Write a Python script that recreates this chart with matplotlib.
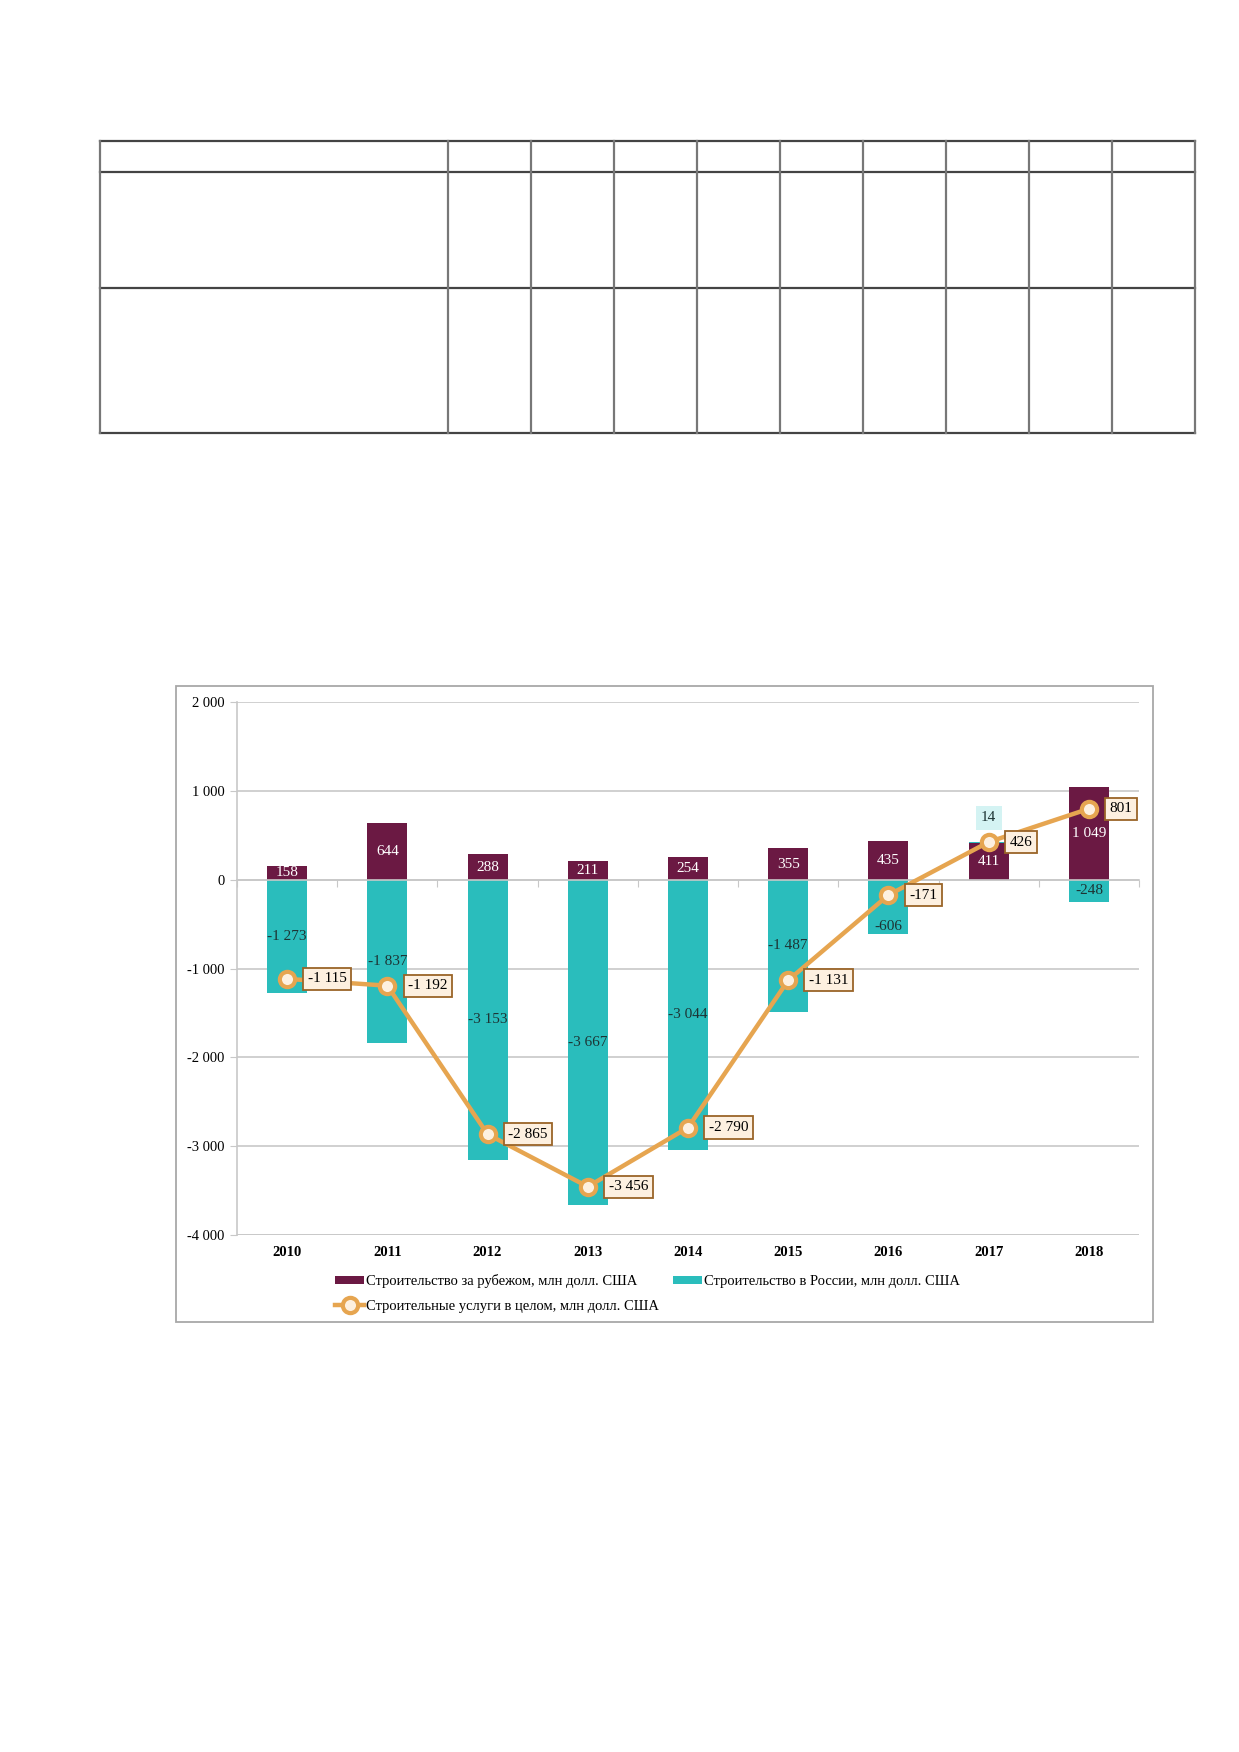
import matplotlib
matplotlib.use("Agg")
import matplotlib.pyplot as plt
import numpy as np
from matplotlib.lines import Line2D
from matplotlib.patches import Rectangle

plt.rcParams['font.family'] = ['Liberation Serif', 'DejaVu Serif']

years = ['2010', '2011', '2012', '2013', '2014', '2015', '2016', '2017', '2018']
abroad = [158, 644, 288, 211, 254, 355, 435, 411, 1049]
russia = [-1273, -1837, -3153, -3667, -3044, -1487, -606, 14, -248]
total = [-1115, -1192, -2865, -3456, -2790, -1131, -171, 426, 801]

lab_abroad = 'Строительство за рубежом, млн долл. США'
lab_russia = 'Строительство в России, млн долл. США'
lab_total = 'Строительные услуги в целом, млн долл. США'

PURPLE = '#6b1943'
CYAN = '#2abdbc'
ORANGE = '#e6a550'
CREAM = '#fdf0e0'
BROWN = '#9a6428'
GRID = '#c8c8c8'

W, H = 1239, 1752
fig = plt.figure(figsize=(W / 100, H / 100), dpi=100)


def fmt(v):
    return '{:,}'.format(v).replace(',', ' ')


# empty table frame on top of the page (pixel coords)
bg = fig.add_axes([0, 0, 1, 1])
bg.set_xlim(0, W)
bg.set_ylim(H, 0)
bg.axis('off')
t_left, t_right, t_first = 100, 1195, 447.5
rows = [141, 172, 288, 433]
cols = [t_left, t_first] + list(np.linspace(t_first, t_right, 10)[1:])
for y in rows:
    bg.add_line(Line2D([t_left, t_right], [y, y], color='#444444', lw=1.6))
for x in cols:
    bg.add_line(Line2D([x, x], [rows[0], rows[-1]], color='#777777', lw=1.6))

# chart border
bg.add_patch(Rectangle((176, 686), 977, 636, fill=False, ec='#a8a8a8', lw=1.3))

ax = fig.add_axes([237 / W, 1 - 1235 / H, 902 / W, (1235 - 702.3) / H])
x = np.arange(len(years))
bw = 0.4

b1 = ax.bar(x, abroad, bw, color=PURPLE, label=lab_abroad, zorder=2)
russia_bottom = [a if r > 0 else 0 for a, r in zip(abroad, russia)]
b2 = ax.bar(x, russia, bw, bottom=russia_bottom, color=CYAN, label=lab_russia, zorder=2)
ln, = ax.plot(x, total, color=ORANGE, lw=3.2, marker='o', ms=11, mfc=CREAM,
              mec=ORANGE, mew=3, label=lab_total, zorder=4)

ax.set_xlim(-0.5, len(years) - 0.5)
ax.set_ylim(-4000, 2000)
ax.set_yticks(np.arange(-4000, 2001, 1000))
ax.set_yticklabels([fmt(v) for v in range(-4000, 2001, 1000)], fontsize=10.5)
ax.yaxis.grid(True, color=GRID, lw=1.2, zorder=0)
ax.set_axisbelow(True)
ax.tick_params(axis='y', length=5, color=GRID, pad=4)

for s in ['top', 'right']:
    ax.spines[s].set_visible(False)
ax.spines['left'].set_color(GRID)
ax.spines['left'].set_linewidth(1.2)
ax.spines['bottom'].set_position(('data', 0))
ax.spines['bottom'].set_color(GRID)
ax.spines['bottom'].set_linewidth(1.2)
ax.set_xticks(np.arange(-0.5, len(years), 1))
ax.set_xticklabels([])
ax.tick_params(axis='x', length=5, color=GRID, direction='out')
ax.axhline(-4000, color=GRID, lw=1.2, zorder=1)

for i, y in enumerate(years):
    ax.annotate(y, (i, -4000), xytext=(0, -12.5), textcoords='offset points',
                ha='center', va='center', fontsize=10.5, fontweight='bold')

# the 2016 label sits low in the bar so it clears the line marker
russia_label_y = {6: -530}

# bar labels
for i in range(len(years)):
    ax.text(i, abroad[i] / 2, fmt(abroad[i]), ha='center', va='center',
            color='white', fontsize=11, zorder=5)
    r = russia[i]
    if r < 0:
        ax.text(i, russia_label_y.get(i, r / 2), fmt(r), ha='center', va='center',
                color='#1d3434', fontsize=11, zorder=5)
    else:
        ax.text(i, 700, fmt(r), ha='center', va='center', color='#1d3434',
                fontsize=11, zorder=5,
                bbox=dict(boxstyle='square,pad=0.35', fc='#d4f3f3', ec='none'))

# line labels
for i, v in enumerate(total):
    ax.annotate(fmt(v), (i, v), xytext=(15, 0), textcoords='offset points',
                ha='left', va='center', fontsize=11, zorder=6,
                bbox=dict(boxstyle='square,pad=0.3', fc=CREAM, ec=BROWN, lw=1.3))

fig.legend([b1, ln, b2], [lab_abroad, lab_total, lab_russia], ncol=2,
           loc='upper left', bbox_to_anchor=(335 / W, 1 - 1274 / H),
           frameon=False, fontsize=10.5, handlelength=2.0, handleheight=0.5,
           handletextpad=0.1, columnspacing=1.0, labelspacing=0.8,
           borderaxespad=0, borderpad=0)

fig.savefig('out.png', dpi=100, facecolor='white')
